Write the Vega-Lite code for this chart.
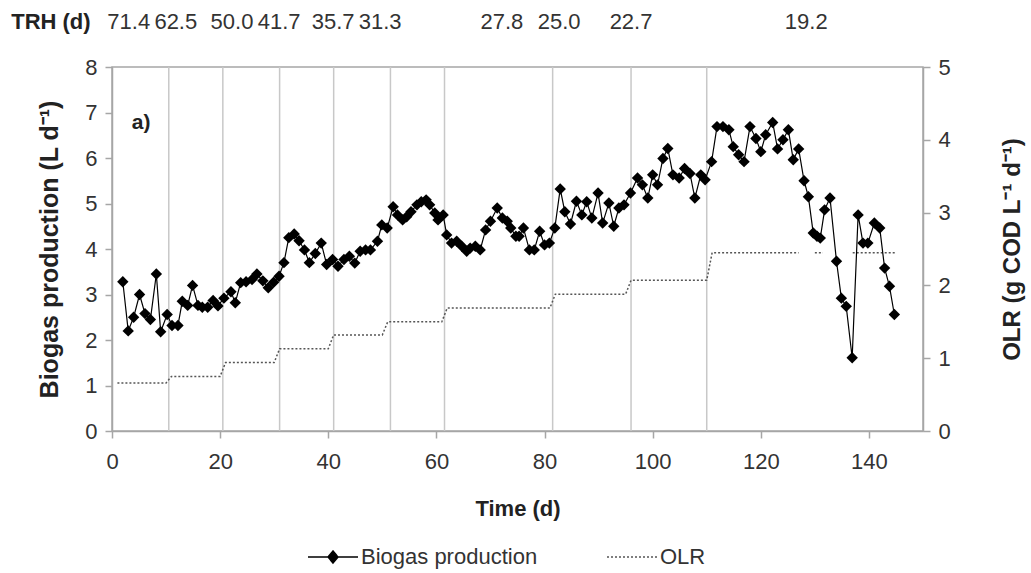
{
  "$schema": "https://vega.github.io/schema/vega-lite/v6.json",
  "width": 811,
  "height": 364,
  "autosize": {"type": "none"},
  "padding": {"left": 112, "top": 67, "right": 108, "bottom": 142},
  "background": "white",
  "config": {
    "font": "Liberation Sans, sans-serif",
    "view": {"stroke": "#a6a6a6", "strokeWidth": 1.5},
    "axis": {
      "labelFont": "Liberation Sans, sans-serif",
      "titleFont": "Liberation Sans, sans-serif",
      "labelFontSize": 22,
      "labelColor": "#333333",
      "titleFontSize": 22,
      "titleFontWeight": "bold",
      "titleColor": "#222222",
      "domainColor": "#a6a6a6",
      "domainWidth": 1.5,
      "tickColor": "#a6a6a6",
      "tickWidth": 1.5,
      "tickSize": 7,
      "grid": false
    },
    "axisX": {"tickCount": 8, "labelPadding": 13, "titlePadding": 26, "labelFlush": false},
    "legend": {"labelFont": "Liberation Sans, sans-serif"}
  },
  "datasets": {
    "phases": [
      {"start": 10.5}, {"start": 20.5}, {"start": 31}, {"start": 41}, {"start": 51.5},
      {"start": 61.5}, {"start": 81.5}, {"start": 96}, {"start": 110}
    ],
    "trh": [
      {"day": 3.1, "trh": "71.4"}, {"day": 11.8, "trh": "62.5"}, {"day": 22.2, "trh": "50.0"},
      {"day": 30.9, "trh": "41.7"}, {"day": 40.9, "trh": "35.7"}, {"day": 49.6, "trh": "31.3"},
      {"day": 72.1, "trh": "27.8"}, {"day": 82.7, "trh": "25.0"}, {"day": 96, "trh": "22.7"},
      {"day": 128.4, "trh": "19.2"}
    ],
    "headers": [
      {"day": -11.3, "level": 9, "label": "TRH (d)"}
    ],
    "panel": [
      {"day": 5.4, "level": 6.76, "label": "a)"}
    ],
    "biogas": [
      {"day": 2, "biogas": 3.28}, {"day": 3, "biogas": 2.2}, {"day": 4, "biogas": 2.5},
      {"day": 5.1, "biogas": 3.0}, {"day": 6.1, "biogas": 2.58}, {"day": 7.1, "biogas": 2.45},
      {"day": 8.2, "biogas": 3.45}, {"day": 9, "biogas": 2.18}, {"day": 10.2, "biogas": 2.56},
      {"day": 11.1, "biogas": 2.32}, {"day": 12.2, "biogas": 2.32}, {"day": 13, "biogas": 2.85},
      {"day": 14, "biogas": 2.76}, {"day": 14.9, "biogas": 3.2}, {"day": 15.9, "biogas": 2.76},
      {"day": 16.7, "biogas": 2.72}, {"day": 17.7, "biogas": 2.72}, {"day": 18.7, "biogas": 2.87},
      {"day": 19.6, "biogas": 2.75}, {"day": 20.7, "biogas": 2.92}, {"day": 22, "biogas": 3.06},
      {"day": 22.8, "biogas": 2.82}, {"day": 23.8, "biogas": 3.26}, {"day": 24.8, "biogas": 3.28},
      {"day": 25.9, "biogas": 3.33}, {"day": 26.8, "biogas": 3.45}, {"day": 27.9, "biogas": 3.3},
      {"day": 28.9, "biogas": 3.15}, {"day": 29.9, "biogas": 3.27}, {"day": 30.9, "biogas": 3.4},
      {"day": 31.8, "biogas": 3.7}, {"day": 32.7, "biogas": 4.25}, {"day": 33.7, "biogas": 4.33},
      {"day": 34.6, "biogas": 4.18}, {"day": 35.6, "biogas": 3.98}, {"day": 36.5, "biogas": 3.7},
      {"day": 37.6, "biogas": 3.9}, {"day": 38.7, "biogas": 4.13}, {"day": 39.7, "biogas": 3.66},
      {"day": 40.8, "biogas": 3.77}, {"day": 41.8, "biogas": 3.62}, {"day": 42.9, "biogas": 3.77},
      {"day": 43.9, "biogas": 3.84}, {"day": 44.9, "biogas": 3.69}, {"day": 45.9, "biogas": 3.95},
      {"day": 46.9, "biogas": 3.98}, {"day": 47.8, "biogas": 3.98}, {"day": 49.1, "biogas": 4.17},
      {"day": 49.9, "biogas": 4.53}, {"day": 50.9, "biogas": 4.46}, {"day": 52, "biogas": 4.93},
      {"day": 52.8, "biogas": 4.75}, {"day": 53.75, "biogas": 4.64}, {"day": 54.5, "biogas": 4.71},
      {"day": 55.3, "biogas": 4.82}, {"day": 56.4, "biogas": 4.97}, {"day": 57.2, "biogas": 5.04},
      {"day": 58.1, "biogas": 5.08}, {"day": 58.75, "biogas": 4.97}, {"day": 59.7, "biogas": 4.79},
      {"day": 60.3, "biogas": 4.64}, {"day": 61.25, "biogas": 4.75}, {"day": 61.9, "biogas": 4.31},
      {"day": 62.8, "biogas": 4.13}, {"day": 63.75, "biogas": 4.17}, {"day": 64.7, "biogas": 4.06},
      {"day": 65.6, "biogas": 3.95}, {"day": 66.25, "biogas": 4.02}, {"day": 67.2, "biogas": 4.06},
      {"day": 68.1, "biogas": 3.98}, {"day": 69.1, "biogas": 4.42}, {"day": 70, "biogas": 4.61},
      {"day": 71.25, "biogas": 4.9}, {"day": 72.2, "biogas": 4.68}, {"day": 73.1, "biogas": 4.61},
      {"day": 73.75, "biogas": 4.46}, {"day": 74.7, "biogas": 4.28}, {"day": 75.3, "biogas": 4.28},
      {"day": 76.1, "biogas": 4.46}, {"day": 77.2, "biogas": 3.98}, {"day": 78.1, "biogas": 3.98},
      {"day": 79.1, "biogas": 4.39}, {"day": 80, "biogas": 4.09}, {"day": 80.9, "biogas": 4.13},
      {"day": 81.9, "biogas": 4.46}, {"day": 82.9, "biogas": 5.32}, {"day": 83.75, "biogas": 4.82},
      {"day": 84.8, "biogas": 4.55}, {"day": 85.9, "biogas": 5.05}, {"day": 86.9, "biogas": 4.75},
      {"day": 87.8, "biogas": 5.04}, {"day": 88.75, "biogas": 4.68}, {"day": 89.9, "biogas": 5.23},
      {"day": 90.75, "biogas": 4.57}, {"day": 91.9, "biogas": 5.01}, {"day": 92.8, "biogas": 4.5},
      {"day": 93.75, "biogas": 4.9}, {"day": 94.7, "biogas": 4.97}, {"day": 95.9, "biogas": 5.23},
      {"day": 97.2, "biogas": 5.56}, {"day": 98.1, "biogas": 5.41}, {"day": 99.1, "biogas": 5.12},
      {"day": 100, "biogas": 5.63}, {"day": 100.9, "biogas": 5.41}, {"day": 101.9, "biogas": 5.99},
      {"day": 102.8, "biogas": 6.21}, {"day": 103.75, "biogas": 5.63}, {"day": 104.9, "biogas": 5.56},
      {"day": 105.9, "biogas": 5.77}, {"day": 106.9, "biogas": 5.66}, {"day": 107.8, "biogas": 5.12},
      {"day": 108.9, "biogas": 5.63}, {"day": 109.7, "biogas": 5.52}, {"day": 110.9, "biogas": 5.92},
      {"day": 111.9, "biogas": 6.69}, {"day": 113, "biogas": 6.69}, {"day": 114.1, "biogas": 6.62},
      {"day": 114.9, "biogas": 6.25}, {"day": 115.9, "biogas": 6.07}, {"day": 116.9, "biogas": 5.92},
      {"day": 118, "biogas": 6.69}, {"day": 119.1, "biogas": 6.43}, {"day": 120, "biogas": 6.14},
      {"day": 120.9, "biogas": 6.51}, {"day": 122.2, "biogas": 6.78}, {"day": 123.1, "biogas": 6.2},
      {"day": 124.1, "biogas": 6.4}, {"day": 125.1, "biogas": 6.62}, {"day": 126, "biogas": 5.96},
      {"day": 127, "biogas": 6.2}, {"day": 128, "biogas": 5.5}, {"day": 128.8, "biogas": 5.15},
      {"day": 129.7, "biogas": 4.35}, {"day": 130.4, "biogas": 4.28}, {"day": 131, "biogas": 4.24},
      {"day": 131.8, "biogas": 4.86}, {"day": 132.8, "biogas": 5.12}, {"day": 134, "biogas": 3.73},
      {"day": 134.9, "biogas": 2.92}, {"day": 135.8, "biogas": 2.74}, {"day": 136.9, "biogas": 1.61},
      {"day": 138, "biogas": 4.75}, {"day": 138.9, "biogas": 4.13}, {"day": 139.8, "biogas": 4.13},
      {"day": 141, "biogas": 4.57}, {"day": 142, "biogas": 4.46}, {"day": 142.9, "biogas": 3.58},
      {"day": 143.8, "biogas": 3.18}, {"day": 144.7, "biogas": 2.56}
    ],
    "olr": [
      {"day": 1, "olr": 0.66}, {"day": 10, "olr": 0.66}, {"day": 11, "olr": 0.75}, {"day": 20, "olr": 0.75},
      {"day": 21, "olr": 0.94}, {"day": 30, "olr": 0.94}, {"day": 31, "olr": 1.13}, {"day": 40, "olr": 1.13},
      {"day": 41, "olr": 1.32}, {"day": 50, "olr": 1.32}, {"day": 51, "olr": 1.5}, {"day": 61, "olr": 1.5},
      {"day": 62, "olr": 1.69}, {"day": 81, "olr": 1.69}, {"day": 82, "olr": 1.88}, {"day": 95, "olr": 1.88},
      {"day": 96, "olr": 2.07}, {"day": 110, "olr": 2.07}, {"day": 111, "olr": 2.45}, {"day": 127, "olr": 2.45},
      {"day": 128, "olr": null}, {"day": 130, "olr": 2.45}, {"day": 131.5, "olr": 2.45},
      {"day": 132, "olr": null}, {"day": 137, "olr": 2.45}, {"day": 145, "olr": 2.45}
    ]
  },
  "layer": [
    {
      "data": {"name": "phases"},
      "mark": {"type": "rule", "color": "#c8c8c8", "strokeWidth": 1.5},
      "encoding": {
        "x": {"field": "start", "type": "quantitative", "scale": {"domain": [0, 150]}, "title": "Time (d)"}
      }
    },
    {
      "data": {"name": "olr"},
      "mark": {"type": "line", "strokeDash": [2, 2], "strokeWidth": 1.5},
      "encoding": {
        "x": {"field": "day", "type": "quantitative", "scale": {"domain": [0, 150]}, "title": "Time (d)"},
        "y": {
          "field": "olr", "type": "quantitative", "scale": {"domain": [0, 5]},
          "axis": {"orient": "right", "values": [0, 1, 2, 3, 4, 5], "title": "OLR (g COD L⁻¹ d⁻¹)", "titleAngle": 270, "titleFontSize": 24, "titlePadding": 74, "labelPadding": 8}
        },
        "color": {"datum": "OLR"}
      }
    },
    {
      "data": {"name": "biogas"},
      "mark": {"type": "line", "strokeWidth": 1.2, "point": {"shape": "diamond", "filled": true, "size": 130}},
      "encoding": {
        "x": {"field": "day", "type": "quantitative", "scale": {"domain": [0, 150]}, "title": "Time (d)"},
        "y": {
          "field": "biogas", "type": "quantitative", "scale": {"domain": [0, 8]},
          "axis": {"orient": "left", "values": [0, 1, 2, 3, 4, 5, 6, 7, 8], "title": "Biogas production (L d⁻¹)", "titleFontSize": 25, "titlePadding": 22, "labelPadding": 8}
        },
        "color": {
          "datum": "Biogas production",
          "scale": {"domain": ["Biogas production", "OLR"], "range": ["#000000", "#555555"]},
          "legend": {
            "orient": "none",
            "legendX": 195,
            "legendY": 464,
            "direction": "horizontal",
            "title": null,
            "padding": 0,
            "labelFontSize": 22,
            "labelColor": "#333333",
            "labelOffset": 2,
            "labelLimit": 400,
            "symbolSize": 2500,
            "symbolStrokeWidth": 1.5,
            "columnPadding": 66,
            "encode": {
              "symbols": {
                "update": {
                  "shape": {"signal": "datum.value === 'OLR' ? 'stroke' : 'M-1,0H1M0,-0.24L0.2,0L0,0.24L-0.2,0Z'"},
                  "strokeDash": {"signal": "datum.value === 'OLR' ? [2, 2] : [1, 0]"},
                  "fill": {"signal": "datum.value === 'OLR' ? 'transparent' : '#000000'"},
                  "stroke": {"signal": "datum.value === 'OLR' ? '#555555' : '#000000'"}
                }
              }
            }
          }
        }
      }
    },
    {
      "data": {"name": "trh"},
      "mark": {"type": "text", "fontSize": 22, "color": "#333333", "baseline": "middle", "align": "center"},
      "encoding": {
        "x": {"field": "day", "type": "quantitative", "scale": {"domain": [0, 150]}, "title": "Time (d)"},
        "y": {"datum": 9, "type": "quantitative", "scale": {"domain": [0, 8]}, "axis": null},
        "text": {"field": "trh"}
      }
    },
    {
      "data": {"name": "headers"},
      "mark": {"type": "text", "fontSize": 22, "fontWeight": "bold", "color": "#222222", "baseline": "middle", "align": "center"},
      "encoding": {
        "x": {"field": "day", "type": "quantitative", "scale": {"domain": [0, 150]}, "title": "Time (d)"},
        "y": {"field": "level", "type": "quantitative", "scale": {"domain": [0, 8]}, "axis": null},
        "text": {"field": "label"}
      }
    },
    {
      "data": {"name": "panel"},
      "mark": {"type": "text", "fontSize": 21, "fontWeight": "bold", "color": "#222222", "baseline": "middle", "align": "center"},
      "encoding": {
        "x": {"field": "day", "type": "quantitative", "scale": {"domain": [0, 150]}, "title": "Time (d)"},
        "y": {"field": "level", "type": "quantitative", "scale": {"domain": [0, 8]}, "axis": null},
        "text": {"field": "label"}
      }
    }
  ],
  "resolve": {"scale": {"y": "independent"}, "axis": {"y": "independent"}}
}
